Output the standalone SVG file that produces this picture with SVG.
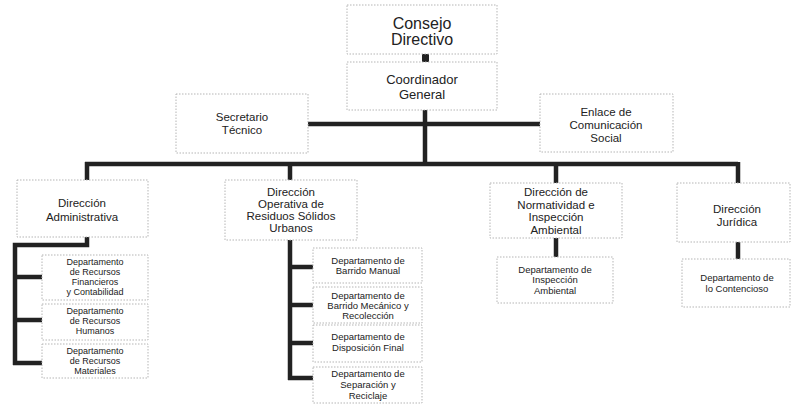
<svg xmlns="http://www.w3.org/2000/svg" width="795" height="404" viewBox="0 0 795 404">
<style>
.box{fill:#fff;stroke:#b5b5b5;stroke-width:1;stroke-dasharray:1.5 1.5}
.ln{fill:none;stroke:#222;stroke-width:4.5;stroke-linecap:butt}
text{font-family:"Liberation Sans",Arial,sans-serif;fill:#222;text-anchor:middle}
.t1{font-size:16px}
.t2{font-size:13px}
.t3{font-size:11.5px}
.t4{font-size:9.5px}
.t5{font-size:9px}
</style>
<rect width="795" height="404" fill="#fff"/>
<g id="connectors">
<rect x="422" y="54" width="7" height="8" fill="#222"/>
<path class="ln" d="M425 110V164"/>
<path class="ln" d="M308 124H540"/>
<path class="ln" d="M85 164H738M87 162V180M290 162V180M556 162V183M738 162V183"/>
<path class="ln" d="M87 237V245H15V365M13 277H42M13 320H42M13 363H42"/>
<path class="ln" d="M290 240V380M288 267H313M288 305H313M288 343H313M288 378H313"/>
<path class="ln" stroke-width="6" d="M556 238V257"/>
<path class="ln" stroke-width="6" d="M738 242V259"/>
</g>
<g id="consejo"><rect class="box" x="347" y="5" width="150" height="49"/><text class="t1" x="422" y="29">Consejo</text><text class="t1" x="422" y="45">Directivo</text></g>
<g id="coordinador"><rect class="box" x="347" y="62" width="150" height="48"/><text class="t2" x="422" y="84">Coordinador</text><text class="t2" x="422" y="99">General</text></g>
<g id="secretario"><rect class="box" x="176" y="94" width="132" height="59"/><text class="t3" x="242" y="121">Secretario</text><text class="t3" x="242" y="134">Técnico</text></g>
<g id="enlace"><rect class="box" x="540" y="94" width="133" height="58"/><text class="t3" x="606" y="116">Enlace de</text><text class="t3" x="606" y="129">Comunicación</text><text class="t3" x="606" y="142">Social</text></g>
<g id="dir-admin"><rect class="box" x="17" y="180" width="131" height="57"/><text class="t3" x="82" y="207">Dirección</text><text class="t3" x="82" y="221">Administrativa</text></g>
<g id="dir-operativa"><rect class="box" x="225" y="180" width="132" height="60"/><text class="t3" x="291" y="196">Dirección</text><text class="t3" x="291" y="208">Operativa de</text><text class="t3" x="291" y="220">Residuos Sólidos</text><text class="t3" x="291" y="232">Urbanos</text></g>
<g id="dir-normatividad"><rect class="box" x="490" y="183" width="132" height="55"/><text class="t3" x="556" y="196">Dirección de</text><text class="t3" x="556" y="209">Normatividad e</text><text class="t3" x="556" y="221">Inspección</text><text class="t3" x="556" y="234">Ambiental</text></g>
<g id="dir-juridica"><rect class="box" x="677" y="183" width="113" height="59"/><text class="t3" x="737" y="213">Dirección</text><text class="t3" x="737" y="226">Jurídica</text></g>
<g id="dep-financieros"><rect class="box" x="42" y="255" width="106" height="45"/><text class="t5" x="95" y="265">Departamento</text><text class="t5" x="95" y="275">de Recursos</text><text class="t5" x="95" y="285">Financieros</text><text class="t5" x="95" y="295">y Contabilidad</text></g>
<g id="dep-humanos"><rect class="box" x="42" y="304" width="106" height="36"/><text class="t5" x="95" y="314">Departamento</text><text class="t5" x="95" y="324">de Recursos</text><text class="t5" x="95" y="334">Humanos</text></g>
<g id="dep-materiales"><rect class="box" x="42" y="344" width="106" height="34"/><text class="t5" x="95" y="354">Departamento</text><text class="t5" x="95" y="364">de Recursos</text><text class="t5" x="95" y="374">Materiales</text></g>
<g id="dep-barrido-manual"><rect class="box" x="313" y="248" width="109" height="35"/><text class="t4" x="368" y="264">Departamento de</text><text class="t4" x="368" y="274">Barrido Manual</text></g>
<g id="dep-barrido-mecanico"><rect class="box" x="313" y="287" width="109" height="36"/><text class="t4" x="368" y="299">Departamento de</text><text class="t4" x="368" y="309">Barrido Mecánico y</text><text class="t4" x="368" y="319">Recolección</text></g>
<g id="dep-disposicion"><rect class="box" x="313" y="325" width="109" height="37"/><text class="t4" x="368" y="340">Departamento de</text><text class="t4" x="368" y="351">Disposición Final</text></g>
<g id="dep-separacion"><rect class="box" x="313" y="367" width="109" height="36"/><text class="t4" x="368" y="377">Departamento de</text><text class="t4" x="368" y="388">Separación y</text><text class="t4" x="368" y="399">Reciclaje</text></g>
<g id="dep-inspeccion"><rect class="box" x="497" y="257" width="116" height="46"/><text class="t4" x="555" y="273">Departamento de</text><text class="t4" x="555" y="283">Inspección</text><text class="t4" x="555" y="294">Ambiental</text></g>
<g id="dep-contencioso"><rect class="box" x="682" y="259" width="108" height="48"/><text class="t4" x="737" y="281">Departamento de</text><text class="t4" x="737" y="292">lo Contencioso</text></g>
</svg>
